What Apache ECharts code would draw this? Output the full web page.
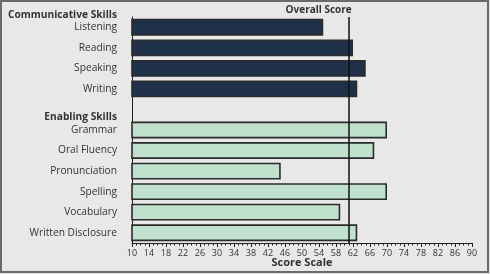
<!DOCTYPE html>
<html>
<head>
<meta charset="utf-8">
<script src="https://cdn.jsdelivr.net/npm/echarts@6/dist/echarts.min.js"></script>
<style>html,body{margin:0;padding:0;background:#e8e8e8;}#c{width:490px;height:274px;}</style>
</head>
<body>
<div id="c"></div>
<script>
var categories = ['Listening','Reading','Speaking','Writing','','Grammar','Oral Fluency','Pronunciation','Spelling','Vocabulary','Written Disclosure'];
var scores = [55, 62, 65, 63, null, 70, 67, 45, 70, 59, 63];
var groupOf = [0, 0, 0, 0, null, 1, 1, 1, 1, 1, 1];
var groupTitles = ['Communicative Skills', 'Enabling Skills'];
var overallScore = 61;
var xTicks = {min: 10, max: 90, interval: 4};

var colors = ['#1e3149', '#bfe1cd'];
var data = scores.map(function (v, i) {
  if (v === null) return null;
  return {value: v, itemStyle: {color: colors[groupOf[i]]}};
});
var font = 'Open Sans';
var chart = echarts.init(document.getElementById('c'));
chart.setOption({
  backgroundColor: '#e8e8e8',
  animation: false,
  textStyle: {fontFamily: font},
  grid: {left: 132, right: 18, top: 17, bottom: 31, outerBoundsMode: 'none', containLabel: false},
  xAxis: {
    type: 'value', min: xTicks.min, max: xTicks.max, interval: xTicks.interval,
    axisLine: {show: true, lineStyle: {color: '#222', width: 1}},
    axisTick: {show: true, length: 4, lineStyle: {color: '#222'}},
    minorTick: {show: true, splitNumber: 4, length: 2.5, lineStyle: {color: '#222'}},
    splitLine: {show: false},
    axisLabel: {fontSize: 9, lineHeight: 8, color: '#333', margin: 6, fontFamily: font},
    name: 'Score Scale', nameLocation: 'middle', nameGap: 14, nameMoveOverlap: false,
    nameTextStyle: {fontSize: 11, lineHeight: 11, fontWeight: 'bold', color: '#333', fontFamily: font}
  },
  yAxis: {
    type: 'category', inverse: true, data: categories,
    axisLine: {show: true, lineStyle: {color: '#222', width: 1}},
    axisTick: {show: false},
    axisLabel: {fontSize: 10.2, color: '#333', margin: 15, fontFamily: font, padding: [3, 0, 0, 0]}
  },
  series: [{
    type: 'bar', data: data, barWidth: '82%',
    itemStyle: {borderColor: '#2b2b2b', borderWidth: 1.6},
    markLine: {
      silent: true, symbol: 'none',
      lineStyle: {color: '#111', width: 1.5, type: 'solid'},
      label: {show: true, position: 'start', formatter: 'Overall Score', align: 'right', offset: [3, 0],
        fontSize: 10, fontWeight: 'bold', color: '#333', fontFamily: font, distance: 2},
      data: [{xAxis: overallScore}]
    }
  }],
  graphic: [
    {type: 'text', x: 117, y: 15, style: {text: groupTitles[0], align: 'right', verticalAlign: 'middle', font: 'bold 10.2px "Open Sans"', fill: '#333'}},
    {type: 'text', x: 117, y: 117, style: {text: groupTitles[1], align: 'right', verticalAlign: 'middle', font: 'bold 10.2px "Open Sans"', fill: '#333'}},
    {type: 'rect', shape: {x: 1, y: 1, width: 487, height: 271}, style: {fill: 'none', stroke: '#6a6a6a', lineWidth: 2}}
  ]
});
</script>
</body>
</html>
